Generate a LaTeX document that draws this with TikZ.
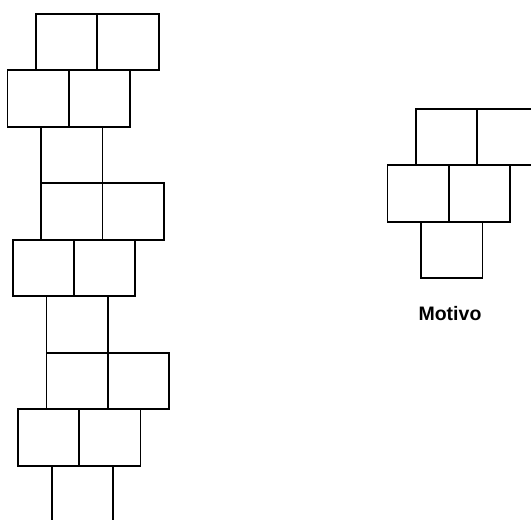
\documentclass[tikz,border=0pt]{standalone}
\usepackage{fontspec}
\setmainfont{Liberation Sans}
\usetikzlibrary{positioning}

\tikzset{cell/.style={rectangle,draw,line width=1.8pt,minimum width=61.3pt,minimum height=56.5pt,inner sep=0pt,outer sep=0pt}}

\begin{document}
\begin{tikzpicture}[x=1pt,y=-1pt] {
    \clip (0,0) rectangle (531,520);
    \foreach \x/\y/\n in {36/13.7/a, 41.2/183.2/b, 46.4/352.7/c, 416/108.7/m} {
        \node[cell,anchor=north west] (\n1) at (\x,\y) {};
        \node[cell,right=0pt of \n1] (\n2) {};
        \node[cell,anchor=north west] (\n3) at (\x-28.5,\y+56.5) {};
        \node[cell,right=0pt of \n3] (\n4) {};
        \node[cell,anchor=north west] (\n5) at (\x+5.2,\y+113) {};
    }
    \node[anchor=base,inner sep=0pt,font=\fontsize{19.5}{23}\selectfont\bfseries] (motivo) at (450,320.7) {Motivo};
 }
\end{tikzpicture}
\end{document}
